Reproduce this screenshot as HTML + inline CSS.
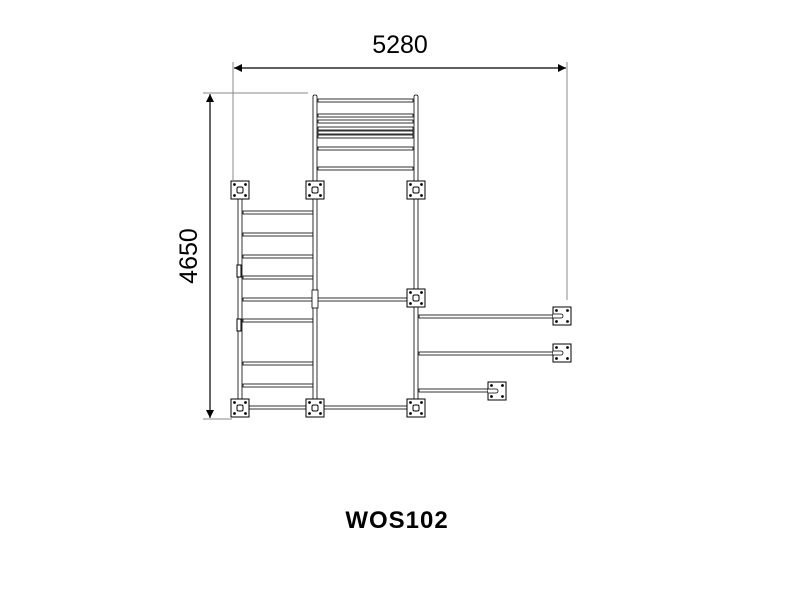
<!DOCTYPE html><html><head><style>body{margin:0;background:#fff}</style></head><body>
<svg width="800" height="600" viewBox="0 0 800 600" xmlns="http://www.w3.org/2000/svg">
<defs>
<marker id="a" viewBox="0 0 10 10" refX="10" refY="5" markerWidth="24" markerHeight="8" markerUnits="userSpaceOnUse" orient="auto-start-reverse"><path d="M0,0L10,5L0,10z" fill="#000"/></marker>
<g id="pl"><rect x="-9" y="-9" width="18" height="18" fill="#fff" stroke="#000" stroke-width="1"/><circle cx="-5.5" cy="-5.5" r="0.9"/><circle cx="5.5" cy="-5.5" r="0.9"/><circle cx="-5.5" cy="5.5" r="0.9"/><circle cx="5.5" cy="5.5" r="0.9"/><rect x="-3" y="-3" width="6" height="6" rx="1.5" fill="#fff" stroke="#000"/></g>
<g id="pa"><rect x="-9" y="-9" width="18" height="18" fill="#fff" stroke="#000" stroke-width="1"/><circle cx="-5.5" cy="-5.5" r="0.9"/><circle cx="5.5" cy="-5.5" r="0.9"/><circle cx="-5.5" cy="5.5" r="0.9"/><circle cx="5.5" cy="5.5" r="0.9"/><path d="M-9,-2H-1A2,2 0 0 1 -1,2H-9" fill="#fff" stroke="#000" stroke-width="0.8"/></g>
</defs>
<g stroke="#888" stroke-width="1">
<line x1="233" y1="62" x2="233" y2="180"/><line x1="567" y1="62" x2="567" y2="300"/>
<line x1="203" y1="93" x2="308" y2="93"/><line x1="203" y1="419" x2="232" y2="419"/>
</g>
<line x1="234" y1="68" x2="566" y2="68" stroke="#000" stroke-width="1.2" marker-start="url(#a)" marker-end="url(#a)"/>
<line x1="210" y1="94" x2="210" y2="418" stroke="#000" stroke-width="1.2" marker-start="url(#a)" marker-end="url(#a)"/>
<text x="400" y="53" font-family="Liberation Sans, sans-serif" font-size="25" text-anchor="middle">5280</text>
<text transform="translate(197,256) rotate(-90)" font-family="Liberation Sans, sans-serif" font-size="25" text-anchor="middle">4650</text>
<g stroke="#000" stroke-width="0.8" fill="#fff">
<rect x="318" y="99" width="95" height="3"/><rect x="318" y="114" width="95" height="3"/><rect x="318" y="120" width="95" height="3"/><rect x="318" y="127" width="95" height="3"/><rect x="318" y="131" width="95" height="3"/><rect x="318" y="135" width="95" height="3"/><rect x="318" y="147" width="95" height="3"/><rect x="318" y="167" width="95" height="3"/>
<rect x="243" y="211" width="70" height="3"/><rect x="243" y="233" width="70" height="3"/><rect x="243" y="255" width="70" height="3"/><rect x="243" y="276" width="70" height="3"/><rect x="243" y="298" width="173" height="3"/><rect x="243" y="319" width="70" height="3"/><rect x="243" y="362" width="70" height="3"/><rect x="243" y="384" width="70" height="3"/><rect x="243" y="406" width="173" height="3"/>
<rect x="419" y="315" width="142" height="3"/><rect x="419" y="352" width="142" height="3"/><rect x="419" y="389" width="76" height="3"/>
<rect x="238" y="188" width="4" height="222"/>
<rect x="313" y="95" width="4" height="315" rx="1.5"/>
<rect x="414" y="95" width="4" height="315" rx="1.5"/>
<rect x="237" y="265" width="4" height="12" stroke-width="1"/><rect x="237" y="319" width="4" height="12" stroke-width="1"/>
<rect x="312" y="290" width="6" height="18"/>
</g>
<g fill="#000" stroke="#000">
<use href="#pl" x="240" y="190"/><use href="#pl" x="315" y="190"/><use href="#pl" x="416" y="190"/><use href="#pl" x="416" y="298"/>
<use href="#pl" x="240" y="408"/><use href="#pl" x="315" y="408"/><use href="#pl" x="416" y="408"/>
<use href="#pa" x="562" y="316"/><use href="#pa" x="562" y="353"/><use href="#pa" x="497" y="391"/>
</g>
<text x="397" y="528" font-family="Liberation Sans, sans-serif" font-size="24" font-weight="bold" text-anchor="middle" letter-spacing="1">WOS102</text>
</svg>
</body></html>
